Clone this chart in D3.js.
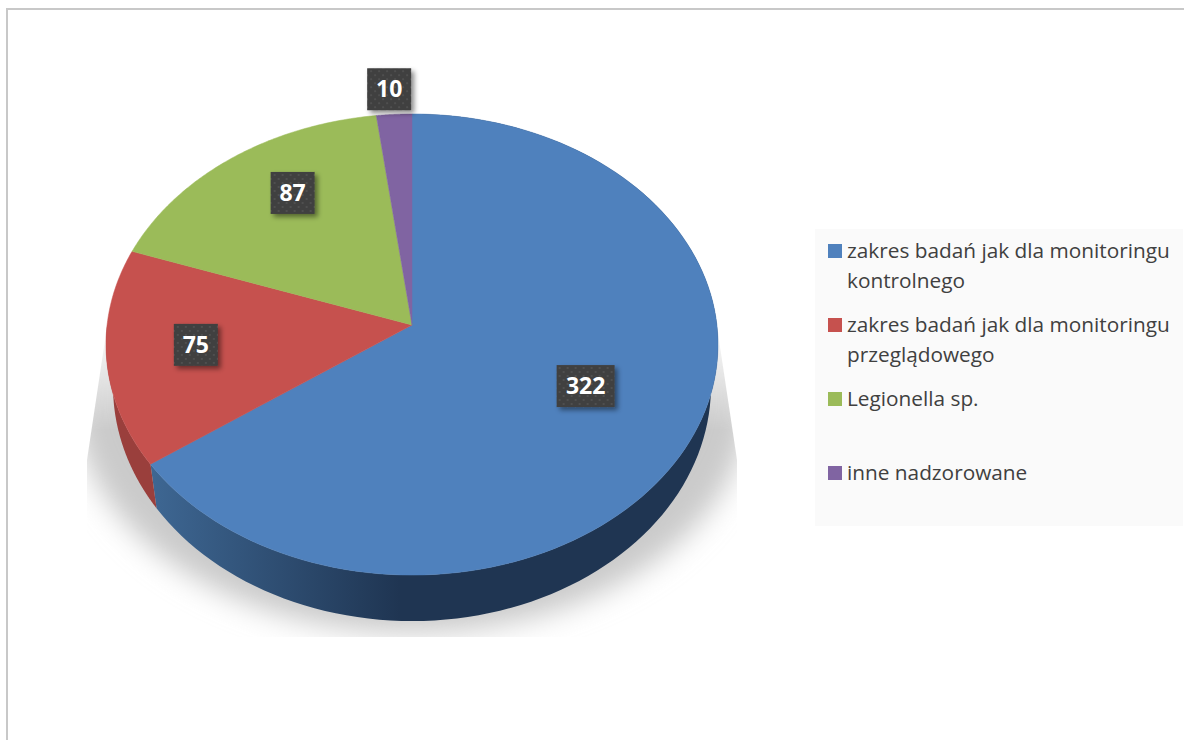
<!DOCTYPE html>
<html>
<head>
<meta charset="utf-8">
<script src="https://cdn.jsdelivr.net/npm/d3@7"></script>
<style>
  html, body { margin: 0; padding: 0; background: #fff; }
  svg { display: block; }
</style>
</head>
<body>
<svg width="1184" height="740"></svg>
<script>
const categories = [
  ["zakres badań jak dla monitoringu", "kontrolnego"],
  ["zakres badań jak dla monitoringu", "przeglądowego"],
  ["Legionella sp."],
  ["inne nadzorowane"],
];
const values = [322, 75, 87, 10];
const colors = ["#4f81bd", "#c6514e", "#9bbb59", "#8064a2"];
const wallColors = ["#1f3552", "#9a3f3c", "#7a9444", "#66507f"];

// where the labels sit: fraction of the radius, then a small nudge in px
const labelRadius = [0.65, 0.71, 0.7, 1.12];
const labelNudge = [[-7, -9], [0, -3], [9, -13], [-3, -2]];

// the pie is tilted in perspective, so the apex is not the ellipse centre
const apexX = 412, apexY = 325, scaleU = 304.9, scaleV = 228.9, persp = 0.0846;
// lower rim of the wall
const rimShrink = 0.977, rimDrop = 41.5, rimStretch = 1.018;

const svg = d3.select("svg");
const defs = svg.append("defs");

function project(angle, r)
{
  const u = Math.sin(angle) * r;
  const v = Math.cos(angle) * r;
  const d = 1 + persp * v;
  return [apexX + scaleU * u / d, apexY - scaleV * v / d];
}

function projectRim(angle)
{
  const p = project(angle, 1);
  return [apexX + (p[0] - apexX) * rimShrink, apexY + rimDrop + (p[1] - apexY) * rimStretch];
}

function arcAngles(a0, a1)
{
  return d3.range(0, 121).map((i) => a0 + (a1 - a0) * i / 120);
}

const line = d3.line();
const pie = d3.pie().sort(null)(values);

// frame
svg.append("path")
  .attr("d", "M7,740V9H1184")
  .attr("fill", "none")
  .attr("stroke", "#c8c8c8")
  .attr("stroke-width", 2);

// shadow under the pie, cut off with slanted sides like the original
defs.append("filter").attr("id", "blur")
  .attr("x", "-20%").attr("y", "-20%").attr("width", "140%").attr("height", "140%")
  .append("feGaussianBlur").attr("stdDeviation", 14);
defs.append("clipPath").attr("id", "shadowClip")
  .append("path").attr("d", "M108,320L87,460V637H737V460L716,320Z");
const fade = defs.append("linearGradient").attr("id", "shadowFade")
  .attr("gradientUnits", "userSpaceOnUse")
  .attr("x1", 0).attr("y1", 320).attr("x2", 0).attr("y2", 430);
fade.append("stop").attr("offset", 0).attr("stop-color", "#000");
fade.append("stop").attr("offset", 1).attr("stop-color", "#fff");
defs.append("mask").attr("id", "shadowMask").attr("maskUnits", "userSpaceOnUse")
  .attr("x", 0).attr("y", 0).attr("width", 1184).attr("height", 740)
  .append("rect").attr("x", 0).attr("y", 0).attr("width", 1184).attr("height", 740)
  .attr("fill", "url(#shadowFade)");
svg.append("g")
  .attr("clip-path", "url(#shadowClip)")
  .attr("mask", "url(#shadowMask)")
  .append("path")
  .attr("d", line(arcAngles(0, 2 * Math.PI).map((a) =>
  {
    const p = projectRim(a);
    return [apexX + (p[0] - apexX) * 1.13, p[1] + 12];
  })) + "Z")
  .attr("fill", "#cacaca")
  .attr("filter", "url(#blur)");

// wall
const blueWall = defs.append("linearGradient").attr("id", "wall0")
  .attr("gradientUnits", "userSpaceOnUse")
  .attr("x1", 150).attr("y1", 0).attr("x2", 400).attr("y2", 0);
blueWall.append("stop").attr("offset", 0).attr("stop-color", "#3e6793");
blueWall.append("stop").attr("offset", 1).attr("stop-color", wallColors[0]);

svg.append("g").selectAll("path")
  .data(pie.slice(0, 2))
  .join("path")
  .attr("d", (d) =>
  {
    const angles = arcAngles(d.startAngle, Math.min(d.endAngle, 1.5 * Math.PI));
    return line(angles.map((a) => project(a, 1)).concat(angles.slice().reverse().map(projectRim))) + "Z";
  })
  .attr("fill", (d, i) => i === 0 ? "url(#wall0)" : wallColors[i]);

// top face
svg.append("g").selectAll("path")
  .data(pie)
  .join("path")
  .attr("d", (d) => line([[apexX, apexY]].concat(arcAngles(d.startAngle, d.endAngle).map((a) => project(a, 1)))) + "Z")
  .attr("fill", (d, i) => colors[i])
  .attr("stroke", (d, i) => colors[i])
  .attr("stroke-width", 0.5);

// data labels
const dots = defs.append("pattern").attr("id", "dots")
  .attr("patternUnits", "userSpaceOnUse").attr("width", 8).attr("height", 8);
dots.append("rect").attr("width", 8).attr("height", 8).attr("fill", "#3f3f3f");
dots.append("circle").attr("cx", 2).attr("cy", 2).attr("r", 1).attr("fill", "#565656");
dots.append("circle").attr("cx", 6).attr("cy", 6).attr("r", 1).attr("fill", "#565656");
const boxShadow = defs.append("filter").attr("id", "boxShadow")
  .attr("x", "-30%").attr("y", "-30%").attr("width", "170%").attr("height", "170%");
boxShadow.append("feDropShadow")
  .attr("dx", 3).attr("dy", 3).attr("stdDeviation", 2.5)
  .attr("flood-color", "#000").attr("flood-opacity", 0.45);

const labels = svg.append("g").selectAll("g")
  .data(pie)
  .join("g")
  .attr("transform", (d, i) =>
  {
    const p = project((d.startAngle + d.endAngle) / 2, labelRadius[i]);
    return `translate(${p[0] + labelNudge[i][0]},${p[1] + labelNudge[i][1]})`;
  });
labels.append("rect")
  .attr("x", (d) => String(d.value).length > 2 ? -29 : -22)
  .attr("y", -21)
  .attr("width", (d) => String(d.value).length > 2 ? 58 : 44)
  .attr("height", 42)
  .attr("fill", "url(#dots)")
  .attr("filter", "url(#boxShadow)");
labels.append("text")
  .attr("text-anchor", "middle")
  .attr("y", 8)
  .attr("font-family", "'Open Sans', sans-serif")
  .attr("font-weight", 700)
  .attr("font-size", 23)
  .attr("fill", "#fff")
  .text((d) => d.value);

// legend
svg.append("rect")
  .attr("x", 815).attr("y", 229).attr("width", 368).attr("height", 297)
  .attr("fill", "#fafafa");

const legendRowY = d3.scalePoint().domain(d3.range(4)).range([251, 473]);
const legend = svg.append("g").selectAll("g")
  .data(categories)
  .join("g")
  .attr("transform", (d, i) => `translate(828,${legendRowY(i)})`);
legend.append("rect")
  .attr("x", 0).attr("y", -7).attr("width", 14).attr("height", 14)
  .attr("fill", (d, i) => colors[i]);
legend.each(function(rows)
{
  d3.select(this).selectAll("text")
    .data(rows)
    .join("text")
    .attr("x", 19)
    .attr("y", (r, j) => 7 + j * 29.5)
    .attr("font-family", "'Open Sans', sans-serif")
    .attr("font-size", 20.8)
    .attr("fill", "#404040")
    .text((r) => r);
});
</script>
</body>
</html>
